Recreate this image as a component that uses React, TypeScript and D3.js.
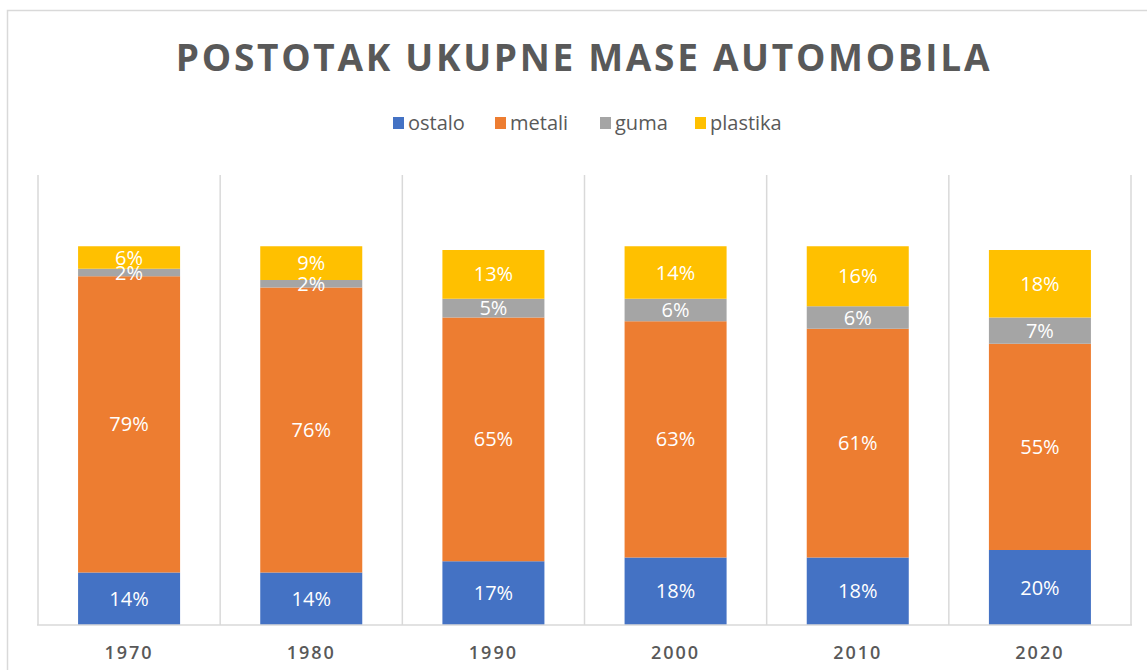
import React from "react";
import * as d3 from "d3";

const years = ["1970", "1980", "1990", "2000", "2010", "2020"];
const seriesNames = ["ostalo", "metali", "guma", "plastika"];
const ostalo = [14, 14, 17, 18, 18, 20];
const metali = [79, 76, 65, 63, 61, 55];
const guma = [2, 2, 5, 6, 6, 7];
const plastika = [6, 9, 13, 14, 16, 18];
const colors = ["#4472C4", "#ED7D31", "#A5A5A5", "#FFC000"];

const W = 1147;
const H = 670;

export default function App() {
  const values = [ostalo, metali, guma, plastika];
  const rows = years.map((y, i) => {
    const r: any = { year: y };
    seriesNames.forEach((s, k) => (r[s] = values[k][i]));
    return r;
  });
  const stack = d3.stack().keys(seriesNames)(rows as any);

  const x = d3.scaleBand().domain(years).range([38, 1131]).paddingInner(0).paddingOuter(0);
  const y = d3.scaleLinear().domain([0, 120]).range([625, 175]);
  const barW = x.bandwidth() * 0.56;
  const font = "'Open Sans', sans-serif";

  const legendX = [393, 495, 600, 695];

  return (
    <svg width={W} height={H} style={{ position: "absolute", left: 0, top: 0 }}>
      <rect x={0} y={0} width={W} height={H} fill="#fff" />
      <path d={`M7.5,${H} V10.5 H${W}`} fill="none" stroke="#d9d9d9" strokeWidth={1.5} />
      <text
        x={584}
        y={71}
        textAnchor="middle"
        fontFamily={font}
        fontWeight={700}
        fontSize={37}
        letterSpacing={2.7}
        fill="#595959"
      >
        POSTOTAK UKUPNE MASE AUTOMOBILA
      </text>
      {seriesNames.map((s, k) => (
        <g key={s}>
          <rect x={legendX[k]} y={117} width={11} height={12} fill={colors[k]} />
          <text x={legendX[k] + 15} y={130} fontFamily={font} fontSize={20} fill="#595959">
            {s}
          </text>
        </g>
      ))}
      {d3.range(years.length + 1).map((i) => {
        const xx = 38 + i * x.step();
        return <line key={i} x1={xx} x2={xx} y1={175} y2={625} stroke="#d9d9d9" strokeWidth={1.5} />;
      })}
      {stack.map((layer, k) => (
        <g key={k}>
          {layer.map((d: any, i: number) => {
            const cx = (x(years[i]) as number) + x.bandwidth() / 2;
            return (
              <rect
                key={i}
                x={cx - barW / 2}
                y={y(d[1])}
                width={barW}
                height={y(d[0]) - y(d[1])}
                fill={colors[k]}
              />
            );
          })}
        </g>
      ))}
      {stack.map((layer, k) => (
        <g key={"l" + k}>
          {layer.map((d: any, i: number) => {
            const cx = (x(years[i]) as number) + x.bandwidth() / 2;
            return (
              <text
                key={i}
                x={cx}
                y={y((d[0] + d[1]) / 2)}
                dy="0.35em"
                textAnchor="middle"
                fontFamily={font}
                fontSize={20}
                fill="#ffffff"
              >
                {values[k][i]}%
              </text>
            );
          })}
        </g>
      ))}
      <line x1={37} x2={1132} y1={625} y2={625} stroke="#d9d9d9" strokeWidth={1.5} />
      {years.map((yr) => (
        <text
          key={yr}
          x={(x(yr) as number) + x.bandwidth() / 2}
          y={659}
          textAnchor="middle"
          fontFamily={font}
          fontSize={18}
          fontWeight={600}
          letterSpacing={2}
          fill="#595959"
        >
          {yr}
        </text>
      ))}
    </svg>
  );
}
